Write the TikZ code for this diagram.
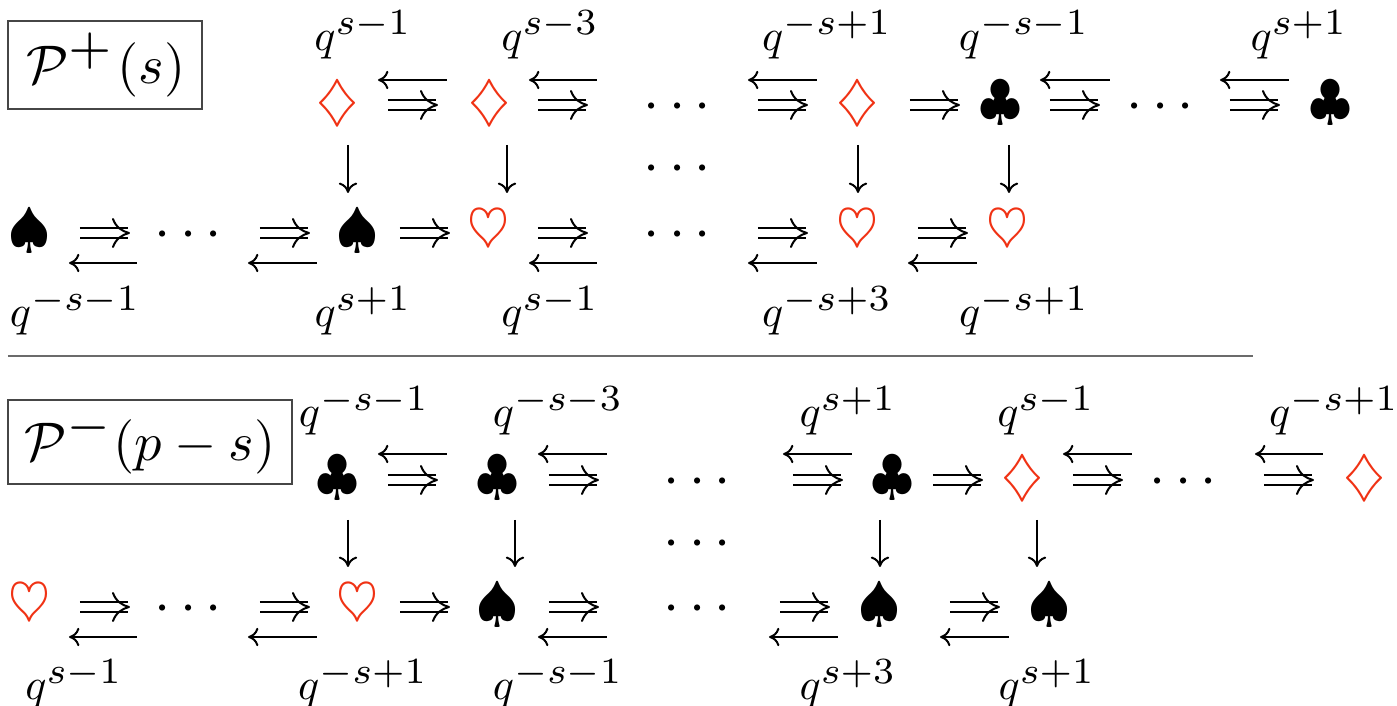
\documentclass[tikz,border=0pt]{standalone}
\usepackage{amsmath,amssymb}
\usepackage{graphicx}
\usepackage{xcolor}
\usetikzlibrary{positioning,arrows.meta}
\definecolor{sred}{RGB}{240,50,20}
\definecolor{srule}{RGB}{70,70,70}
\newcommand{\qpow}[1]{\scalebox{1.1}{$q^{\scalebox{1.2}{$\scriptstyle #1$}}$}}
\newcommand{\rowdots}{\makebox[0pt]{\hspace*{2.5pt}\raisebox{-0.5pt}{\scalebox{1.45}{$\cdots$}}}}
\newcommand{\bsuit}[1]{\scalebox{1.35}{$#1$}}
\newcommand{\tagsup}[1]{\scalebox{1.3}{$\scriptstyle #1$}}
\tikzset{
  suit/.style={inner sep=0pt, outer sep=0pt, minimum width=11pt, text height=8.5pt, text depth=1.5pt},
  rsuit/.style={suit, text=sred},
  pow/.style={inner sep=0pt, outer sep=0pt},
  tag/.style={draw=srule, line width=0.35pt, inner sep=0pt},
  imp/.style={-{Bar[width=0.1pt,line width=0.1pt,white,sep=-3.2pt] Computer Modern Rightarrow[length=4.5pt,width=7.5pt,line width=0.5pt]}, double, line width=0.5pt, double distance=2pt},
  bak/.style={-{Computer Modern Rightarrow[length=2.6pt,width=4.6pt]}, line width=0.5pt},
}
\begin{document}
\begin{tikzpicture}[x=0.25pt, y=-0.25pt]
\useasboundingbox (0,0) rectangle (1397,706);
\node[tag, minimum width=48.5pt, minimum height=22pt] (plus) at (105,65) {\hspace*{0.5pt}\scalebox{1.36}{$\mathcal{P}^{\tagsup{+}}\mkern1mu(s)$}};
\node[tag, minimum width=71pt, minimum height=21pt] (minus) at (150,442) {\scalebox{1.36}{$\mathcal{P}^{\tagsup{-}}(p-s)$}};
% first row
\node[rsuit] (a1) at (338,105) {\bsuit{\diamondsuit}};
\node[rsuit, right=27pt of a1] (a2) {\bsuit{\diamondsuit}};
\node[suit, right=35.75pt of a2] (a3) {\rowdots};
\node[rsuit, right=34.25pt of a3] (a4) {\bsuit{\diamondsuit}};
\node[suit, right=24.5pt of a4] (a5) {\bsuit{\clubsuit}};
\node[suit, right=29pt of a5] (a6) {\rowdots};
\node[suit, right=31.5pt of a6] (a7) {\bsuit{\clubsuit}};
\node[suit] (m1) at (677,167) {\rowdots};
% second row
\node[suit] (b1) at (29,233) {\bsuit{\spadesuit}};
\node[suit, right=28.75pt of b1] (b2) {\rowdots};
\node[suit, right=31.5pt of b2] (b3) {\bsuit{\spadesuit}};
\node[rsuit, right=21.75pt of b3] (b4) {\bsuit{\heartsuit}};
\node[suit, right=36pt of b4] (b5) {\rowdots};
\node[rsuit, right=34.25pt of b5] (b6) {\bsuit{\heartsuit}};
\node[rsuit, right=26.5pt of b6] (b7) {\bsuit{\heartsuit}};
% labels of the first two rows
\node[pow, above=6.5pt of a1, xshift=6.25pt] (ta1) {\qpow{s-1}};
\node[pow, above=6.5pt of a2, xshift=15pt] (ta2) {\qpow{s-3}};
\node[pow, above=6.5pt of a4, xshift=-7.75pt] (ta4) {\qpow{-s+1}};
\node[pow, above=6.5pt of a5, xshift=6pt] (ta5) {\qpow{-s-1}};
\node[pow, above=6.5pt of a7, xshift=-7.75pt] (ta7) {\qpow{s+1}};
\node[pow, below=8.5pt of b1, xshift=11.5pt] (tb1) {\qpow{-s-1}};
\node[pow, below=8.5pt of b3, xshift=1.25pt] (tb3) {\qpow{s+1}};
\node[pow, below=8.5pt of b4, xshift=15.25pt] (tb4) {\qpow{s-1}};
\node[pow, below=8.5pt of b6, xshift=-7.75pt] (tb6) {\qpow{-s+3}};
\node[pow, below=8.5pt of b7, xshift=4pt] (tb7) {\qpow{-s+1}};
% first row arrows
\draw[imp, shorten <=12.5pt, shorten >=13pt] (a1.center) -- (a2.center);
\draw[imp, shorten <=12pt, shorten >=22.25pt] (a2.center) -- (a3.center);
\draw[imp, shorten <=20.25pt, shorten >=12.5pt] (a3.center) -- (a4.center);
\draw[imp, shorten <=13pt, shorten >=10pt] (a4.center) -- (a5.center);
\draw[imp, shorten <=12.5pt, shorten >=15pt] (a5.center) -- (a6.center);
\draw[imp, shorten <=17.5pt, shorten >=12.5pt] (a6.center) -- (a7.center);
\draw[bak, shorten <=10.75pt, shorten >=10pt] ([yshift=6.25pt]a2.center) -- ([yshift=6.25pt]a1.center);
\draw[bak, shorten <=20pt, shorten >=9.75pt] ([yshift=6.25pt]a3.center) -- ([yshift=6.25pt]a2.center);
\draw[bak, shorten <=10.25pt, shorten >=17.75pt] ([yshift=6.25pt]a4.center) -- ([yshift=6.25pt]a3.center);
\draw[bak, shorten <=12.5pt, shorten >=10pt] ([yshift=6.25pt]a6.center) -- ([yshift=6.25pt]a5.center);
\draw[bak, shorten <=10.25pt, shorten >=15pt] ([yshift=6.25pt]a7.center) -- ([yshift=6.25pt]a6.center);
% second row arrows
\draw[imp, shorten <=12.75pt, shorten >=14.5pt] (b1.center) -- (b2.center);
\draw[imp, shorten <=18pt, shorten >=12pt] (b2.center) -- (b3.center);
\draw[imp, shorten <=10.5pt, shorten >=9.75pt] (b3.center) -- (b4.center);
\draw[imp, shorten <=12.25pt, shorten >=22.25pt] (b4.center) -- (b5.center);
\draw[imp, shorten <=20.25pt, shorten >=12.5pt] (b5.center) -- (b6.center);
\draw[imp, shorten <=15pt, shorten >=10pt] (b6.center) -- (b7.center);
\draw[bak, shorten <=12.75pt, shorten >=10pt] ([yshift=-7.5pt]b2.center) -- ([yshift=-7.5pt]b1.center);
\draw[bak, shorten <=10.25pt, shorten >=15pt] ([yshift=-7.5pt]b3.center) -- ([yshift=-7.5pt]b2.center);
\draw[bak, shorten <=20pt, shorten >=10pt] ([yshift=-7.5pt]b5.center) -- ([yshift=-7.5pt]b4.center);
\draw[bak, shorten <=10.25pt, shorten >=17.75pt] ([yshift=-7.5pt]b6.center) -- ([yshift=-7.5pt]b5.center);
\draw[bak, shorten <=7.75pt, shorten >=12.5pt] ([yshift=-7.5pt]b7.center) -- ([yshift=-7.5pt]b6.center);
% maps down
\draw[bak, shorten <=10pt, shorten >=10pt] ([xshift=2.5pt]a1.center) -- ([xshift=-2.5pt]b3.center);
\draw[bak, shorten <=10pt, shorten >=10pt] ([xshift=4.25pt]a2.center) -- ([xshift=4.5pt]b4.center);
\draw[bak, shorten <=10pt, shorten >=10pt] (a4.center) -- (b6.center);
\draw[bak, shorten <=10pt, shorten >=10pt] ([xshift=2.25pt]a5.center) -- ([xshift=0.25pt]b7.center);
% divider
\coordinate (ruleL) at (8,356);
\coordinate (ruleR) at (1253,356);
\draw[srule!80, line width=0.3pt] (ruleL) -- (ruleR);
% third row
\node[suit] (c1) at (338,480) {\bsuit{\clubsuit}};
\node[suit, right=29pt of c1] (c2) {\bsuit{\clubsuit}};
\node[suit, right=38.75pt of c2] (c3) {\rowdots};
\node[suit, right=38pt of c3] (c4) {\bsuit{\clubsuit}};
\node[rsuit, right=21.5pt of c4] (c5) {\bsuit{\diamondsuit}};
\node[suit, right=29pt of c5] (c6) {\rowdots};
\node[rsuit, right=34.5pt of c6] (c7) {\bsuit{\diamondsuit}};
\node[suit] (m2) at (697,542) {\rowdots};
% fourth row
\node[rsuit] (d1) at (29,607) {\bsuit{\heartsuit}};
\node[suit, right=28.75pt of d1] (d2) {\rowdots};
\node[rsuit, right=31.5pt of d2] (d3) {\bsuit{\heartsuit}};
\node[suit, right=24pt of d3] (d4) {\bsuit{\spadesuit}};
\node[suit, right=38.75pt of d4] (d5) {\rowdots};
\node[suit, right=34.75pt of d5] (d6) {\bsuit{\spadesuit}};
\node[suit, right=31.5pt of d6] (d7) {\bsuit{\spadesuit}};
% labels of the last two rows
\node[pow, above=6.25pt of c1, xshift=6.5pt] (tc1) {\qpow{-s-1}};
\node[pow, above=6.25pt of c2, xshift=15pt] (tc2) {\qpow{-s-3}};
\node[pow, above=6.25pt of c4, xshift=-11.25pt] (tc4) {\qpow{s+1}};
\node[pow, above=6.25pt of c5, xshift=5.75pt] (tc5) {\qpow{s-1}};
\node[pow, above=6.25pt of c7, xshift=-7.75pt] (tc7) {\qpow{-s+1}};
\node[pow, below=8.25pt of d1, xshift=11.25pt] (td1) {\qpow{s-1}};
\node[pow, below=8.25pt of d3, xshift=1.25pt] (td3) {\qpow{-s+1}};
\node[pow, below=8.25pt of d4, xshift=15pt] (td4) {\qpow{-s-1}};
\node[pow, below=8.25pt of d6, xshift=-8pt] (td6) {\qpow{s+3}};
\node[pow, below=8.25pt of d7, xshift=-0.75pt] (td7) {\qpow{s+1}};
% third row arrows
\draw[imp, shorten <=12.5pt, shorten >=15pt] (c1.center) -- (c2.center);
\draw[imp, shorten <=12.75pt, shorten >=24.5pt] (c2.center) -- (c3.center);
\draw[imp, shorten <=24pt, shorten >=12.5pt] (c3.center) -- (c4.center);
\draw[imp, shorten <=10pt, shorten >=10pt] (c4.center) -- (c5.center);
\draw[imp, shorten <=12.5pt, shorten >=15pt] (c5.center) -- (c6.center);
\draw[imp, shorten <=20.25pt, shorten >=12.75pt] (c6.center) -- (c7.center);
\draw[bak, shorten <=12.75pt, shorten >=10pt] ([yshift=6.5pt]c2.center) -- ([yshift=6.5pt]c1.center);
\draw[bak, shorten <=22.5pt, shorten >=10pt] ([yshift=6.5pt]c3.center) -- ([yshift=6.5pt]c2.center);
\draw[bak, shorten <=10.25pt, shorten >=21.5pt] ([yshift=6.5pt]c4.center) -- ([yshift=6.5pt]c3.center);
\draw[bak, shorten <=12.75pt, shorten >=10pt] ([yshift=6.5pt]c6.center) -- ([yshift=6.5pt]c5.center);
\draw[bak, shorten <=10.5pt, shorten >=18pt] ([yshift=6.5pt]c7.center) -- ([yshift=6.5pt]c6.center);
% fourth row arrows
\draw[imp, shorten <=12.75pt, shorten >=14.5pt] (d1.center) -- (d2.center);
\draw[imp, shorten <=18pt, shorten >=12pt] (d2.center) -- (d3.center);
\draw[imp, shorten <=10.5pt, shorten >=12pt] (d3.center) -- (d4.center);
\draw[imp, shorten <=12.75pt, shorten >=24.5pt] (d4.center) -- (d5.center);
\draw[imp, shorten <=20.75pt, shorten >=12.5pt] (d5.center) -- (d6.center);
\draw[imp, shorten <=17.5pt, shorten >=12.5pt] (d6.center) -- (d7.center);
\draw[bak, shorten <=12.75pt, shorten >=10pt] ([yshift=-7.5pt]d2.center) -- ([yshift=-7.5pt]d1.center);
\draw[bak, shorten <=10.25pt, shorten >=15pt] ([yshift=-7.5pt]d3.center) -- ([yshift=-7.5pt]d2.center);
\draw[bak, shorten <=22.5pt, shorten >=10pt] ([yshift=-7.5pt]d5.center) -- ([yshift=-7.5pt]d4.center);
\draw[bak, shorten <=10.5pt, shorten >=18pt] ([yshift=-7.5pt]d6.center) -- ([yshift=-7.5pt]d5.center);
\draw[bak, shorten <=10.25pt, shorten >=15pt] ([yshift=-7.5pt]d7.center) -- ([yshift=-7.5pt]d6.center);
% maps down
\draw[bak, shorten <=10pt, shorten >=10pt] ([xshift=2.5pt]c1.center) -- ([xshift=-2.5pt]d3.center);
\draw[bak, shorten <=10pt, shorten >=10pt] ([xshift=4.25pt]c2.center) -- ([xshift=4.25pt]d4.center);
\draw[bak, shorten <=10pt, shorten >=10pt] ([xshift=-3.25pt]c4.center) -- (d6.center);
\draw[bak, shorten <=10pt, shorten >=10pt] ([xshift=3.5pt]c5.center) -- ([xshift=-3.25pt]d7.center);
\end{tikzpicture}
\end{document}
